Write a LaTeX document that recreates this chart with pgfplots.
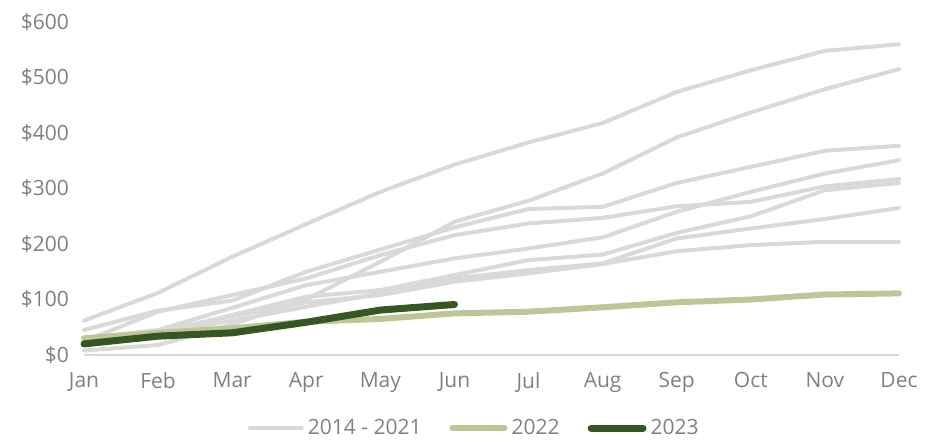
\documentclass[border=0pt]{standalone}
\usepackage{fontspec}
\setmainfont{Open Sans}
\usepackage{pgfplots}
\pgfplotsset{compat=1.18}
\definecolor{histgray}{HTML}{D9D9D9}
\definecolor{yr22}{HTML}{BEC696}
\definecolor{yr23}{HTML}{375623}
\definecolor{txtgray}{HTML}{808080}
\begin{document}
\begin{tikzpicture}
\useasboundingbox (-42pt,-43pt) rectangle (429.5pt,177.5pt);
\begin{axis}[
  scale only axis, width=407.5pt, height=166.5pt,
  xmin=0, xmax=11, ymin=0, ymax=600,
  axis x line*=bottom, axis y line*=left,
  x axis line style={histgray, line width=1pt, -},
  y axis line style={draw=none},
  xtick={0,...,11},
  xticklabels={Jan,Feb,Mar,Apr,May,Jun,Jul,Aug,Sep,Oct,Nov,Dec},
  ytick={0,100,...,600},
  yticklabels={\$0,\$100,\$200,\$300,\$400,\$500,\$600},
  major tick length=0pt,
  tick style={draw=none},
  tick label style={txtgray, font=\fontsize{10.5}{12}\selectfont},
  xticklabel style={yshift=-5pt},
  yticklabel style={xshift=-4pt},
  clip=false,
  legend columns=3,
  legend style={draw=none, fill=none, at={(0.48,-0.22)}, anchor=center,
    font=\fontsize{10.5}{12}\selectfont, text=txtgray,
    /tikz/every even column/.append style={column sep=12pt}},
  legend image code/.code={\draw[#1, line cap=round] (0pt,0pt) -- (26pt,0pt);},
  every axis plot/.append style={line cap=round, line join=round},
]
% 2014 - 2021
\addplot[histgray, line width=2pt] coordinates {(0,62) (1,112) (2,177) (3,236) (4,294) (5,343) (6,383) (7,418) (8,474) (9,513) (10,548) (11,560)};
\addlegendentry{2014 - 2021}
\addplot[histgray, line width=2pt, forget plot] coordinates {(0,8) (1,18) (2,55) (3,100) (4,168) (5,240) (6,278) (7,327) (8,392) (9,437) (10,479) (11,515)};
\addplot[histgray, line width=2pt, forget plot] coordinates {(0,45) (1,80) (2,98) (3,150) (4,190) (5,230) (6,263) (7,267) (8,310) (9,339) (10,368) (11,377)};
\addplot[histgray, line width=2pt, forget plot] coordinates {(0,25) (1,78) (2,108) (3,138) (4,180) (5,216) (6,237) (7,247) (8,268) (9,276) (10,304) (11,317)};
\addplot[histgray, line width=2pt, forget plot] coordinates {(0,30) (1,45) (2,85) (3,126) (4,150) (5,174) (6,192) (7,212) (8,258) (9,294) (10,327) (11,351)};
\addplot[histgray, line width=2pt, forget plot] coordinates {(0,22) (1,40) (2,72) (3,105) (4,117) (5,144) (6,171) (7,181) (8,220) (9,250) (10,297) (11,310)};
\addplot[histgray, line width=2pt, forget plot] coordinates {(0,20) (1,38) (2,62) (3,87) (4,111) (5,138) (6,153) (7,165) (8,210) (9,228) (10,245) (11,265)};
\addplot[histgray, line width=2pt, forget plot] coordinates {(0,28) (1,42) (2,70) (3,95) (4,108) (5,132) (6,147) (7,164) (8,187) (9,198) (10,204) (11,204)};
% 2022
\addplot[yr22, line width=3pt] coordinates {(0,30) (1,40) (2,48) (3,60) (4,65) (5,75) (6,78) (7,86) (8,95) (9,100) (10,109) (11,111)};
\addlegendentry{2022}
% 2023
\addplot[yr23, line width=3.5pt] coordinates {(0,20) (1,34) (2,40) (3,59) (4,81) (5,91)};
\addlegendentry{2023}
\end{axis}
\end{tikzpicture}
\end{document}
